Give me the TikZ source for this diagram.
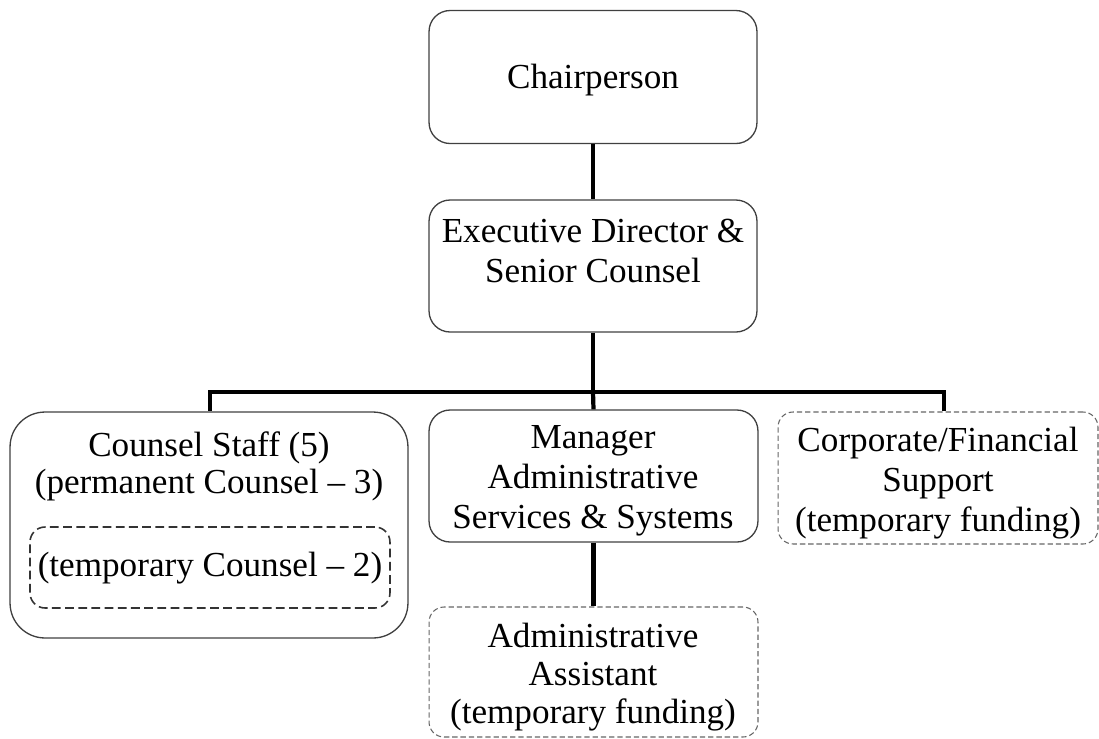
\documentclass[tikz,border=0pt]{standalone}
\usepackage{fontspec}
\setmainfont{Liberation Serif}
\begin{document}
\begin{tikzpicture}[x=0.02cm,y=-0.02cm,
  box/.style={draw=black!75, line width=0.75pt, rounded corners=0.42cm, inner sep=0pt},
  bigbox/.style={box, rounded corners=0.7cm},
  dbox/.style={draw=black!60, line width=0.6pt, dash pattern=on 3pt off 1.7pt, rounded corners=0.3cm, inner sep=0pt},
  idbox/.style={draw=black!80, line width=0.9pt, dash pattern=on 5pt off 2.5pt, rounded corners=0.3cm, inner sep=0pt},
  lbl/.style={font=\fontsize{20}{22.7}\selectfont, align=center, inner sep=0pt},
  lblstaff/.style={font=\fontsize{20}{21}\selectfont, align=center, inner sep=0pt},
  lblasst/.style={font=\fontsize{20}{21.8}\selectfont, align=center, inner sep=0pt},
  conn/.style={line width=2.4pt, draw=black}]
\useasboundingbox (0,0) rectangle (1099,738);

% boxes
\node[box, minimum width=6.56cm, minimum height=2.66cm] (chair) at (593,77) {};
\node[box, minimum width=6.56cm, minimum height=2.64cm] (exec) at (593,266) {};
\node[bigbox, minimum width=7.96cm, minimum height=4.52cm] (staff) at (209,525) {};
\node[idbox, minimum width=7.2cm, minimum height=1.62cm] (temp) at (210,567.5) {};
\node[box, minimum width=6.58cm, minimum height=2.64cm] (mgr) at (593.5,476) {};
\node[dbox, minimum width=6.4cm, minimum height=2.64cm] (corp) at (938,478) {};
\node[dbox, minimum width=6.58cm, minimum height=2.6cm] (asst) at (593.5,672) {};

% texts
\node[lbl] (chairT) at (593,80) {Chairperson};
\node[lbl] (execT) at (593,251) {Executive Director \&\\Senior Counsel};
\node[lblstaff] (staffT) at (209,466) {Counsel Staff (5)\\(permanent Counsel -- 3)};
\node[lbl] (tempT) at (210,568) {(temporary Counsel -- 2)};
\node[lbl] (mgrT) at (593,481) {Manager\\Administrative\\Services \& Systems};
\node[lbl] (corpT) at (938,483) {Corporate/Financial\\Support\\(temporary funding)};
\node[lblasst] (asstT) at (593,677) {Administrative\\Assistant\\(temporary funding)};

% connectors
\coordinate (bar) at (593,392);
\draw[conn] (chair.south) -- (exec.north);
\draw[conn] (exec.south) -- (bar);
\draw[conn] (bar) -| ([xshift=0.02cm]staff.north);
\draw[conn] (bar) -- (mgr.north);
\draw[conn] (bar) -| ([xshift=0.12cm]corp.north);
\draw[conn] (mgr.south) -- (asst.north);
\end{tikzpicture}
\end{document}
